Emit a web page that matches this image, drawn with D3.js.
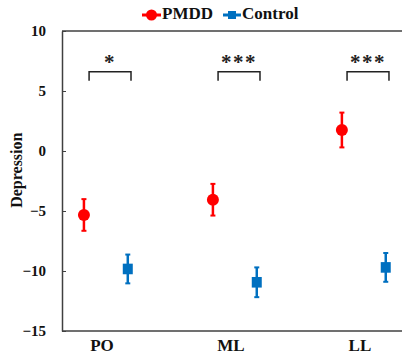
<!DOCTYPE html>
<html>
<head>
<meta charset="utf-8">
<script src="https://cdn.jsdelivr.net/npm/d3@7"></script>
<style>
  body { margin: 0; background: #fff; }
  svg { display: block; }
  svg text { font-family: "Liberation Serif", "Times New Roman", "DejaVu Serif", serif; font-weight: bold; }
</style>
</head>
<body>
<svg id="chart" width="402" height="355"></svg>
<script>
// data
const categories = ["PO", "ML", "LL"];
const pmddMean = [-5.33, -4.06, 1.75];
const pmddErr = [1.32, 1.32, 1.45];
const controlMean = [-9.83, -10.94, -9.7];
const controlErr = [1.2, 1.24, 1.2];
const sigLabels = ["*", "***", "***"];
const yTicks = [-15, -10, -5, 0, 5, 10];

const width = 402, height = 355;
const margin = { top: 31, right: 0, bottom: 24, left: 62 };

const svg = d3.select("#chart");

const x = d3.scaleLinear()
  .domain([0.69, 3.326])
  .range([margin.left, width - margin.right]);

const y = d3.scaleLinear()
  .domain([-15, 10])
  .range([height - margin.bottom, margin.top]);

const axisColor = "#404040";
const red = "#ff0000";
const blue = "#0070c0";

// frame: top and bottom lines
svg.append("line")
  .attr("x1", margin.left).attr("x2", width)
  .attr("y1", y(10)).attr("y2", y(10))
  .attr("stroke", axisColor).attr("stroke-width", 1.5);
svg.append("line")
  .attr("x1", margin.left).attr("x2", width)
  .attr("y1", y(-15)).attr("y2", y(-15))
  .attr("stroke", axisColor).attr("stroke-width", 1.5);

// y axis with inward ticks
const yAxis = d3.axisLeft(y)
  .tickValues(yTicks)
  .tickSizeInner(-4)
  .tickSizeOuter(0)
  .tickPadding(16);

const yg = svg.append("g")
  .attr("transform", `translate(${margin.left},0)`)
  .call(yAxis)
  .attr("font-family", null);
yg.select(".domain").attr("stroke", axisColor).attr("stroke-width", 1.5);
yg.selectAll(".tick line").attr("stroke", axisColor).attr("stroke-width", 1);
yg.selectAll(".tick text")
  .attr("font-size", 15)
  .attr("fill", "#111");

// y label
svg.append("text")
  .attr("transform", `translate(18,${y(-1.6)}) rotate(-90)`)
  .attr("text-anchor", "middle")
  .attr("dominant-baseline", "middle")
  .attr("font-size", 16)
  .attr("fill", "#111")
  .text("Depression");

// x category labels
svg.selectAll(".xlab")
  .data(categories)
  .join("text")
    .attr("class", "xlab")
    .attr("x", (d, i) => x(i + 1))
    .attr("y", 347)
    .attr("text-anchor", "middle")
    .attr("dominant-baseline", "middle")
    .attr("font-size", 17)
    .attr("fill", "#111")
    .text(d => d);

// series
const pmdd = categories.map((c, i) => ({ pos: i + 1 - 0.14, mean: pmddMean[i], err: pmddErr[i] }));
const control = categories.map((c, i) => ({ pos: i + 1 + 0.2, mean: controlMean[i], err: controlErr[i] }));

function errorBars(data, color) {
  const g = svg.append("g");
  g.selectAll("line.v")
    .data(data)
    .join("line")
      .attr("class", "v")
      .attr("x1", d => x(d.pos)).attr("x2", d => x(d.pos))
      .attr("y1", d => y(d.mean + d.err)).attr("y2", d => y(d.mean - d.err))
      .attr("stroke", color).attr("stroke-width", 2.5);
  g.selectAll("line.capTop")
    .data(data)
    .join("line")
      .attr("class", "capTop")
      .attr("x1", d => x(d.pos) - 2.5).attr("x2", d => x(d.pos) + 2.5)
      .attr("y1", d => y(d.mean + d.err)).attr("y2", d => y(d.mean + d.err))
      .attr("stroke", color).attr("stroke-width", 2);
  g.selectAll("line.capBot")
    .data(data)
    .join("line")
      .attr("class", "capBot")
      .attr("x1", d => x(d.pos) - 2.5).attr("x2", d => x(d.pos) + 2.5)
      .attr("y1", d => y(d.mean - d.err)).attr("y2", d => y(d.mean - d.err))
      .attr("stroke", color).attr("stroke-width", 2);
  return g;
}

errorBars(pmdd, red).selectAll("circle")
  .data(pmdd)
  .join("circle")
    .attr("cx", d => x(d.pos))
    .attr("cy", d => y(d.mean))
    .attr("r", 6)
    .attr("fill", red);

errorBars(control, blue).selectAll("rect")
  .data(control)
  .join("rect")
    .attr("x", d => x(d.pos) - 5)
    .attr("y", d => y(d.mean) - 5.3)
    .attr("width", 10)
    .attr("height", 10.6)
    .attr("fill", blue);

// significance brackets
const bracketTop = 6.6, bracketLeg = 5.85;
const sig = svg.append("g");
sig.selectAll("path")
  .data(sigLabels)
  .join("path")
    .attr("d", (d, i) => {
      const x1 = x(i + 1 - 0.1), x2 = x(i + 1 + 0.225);
      return `M${x1},${y(bracketLeg)}V${y(bracketTop)}H${x2}V${y(bracketLeg)}`;
    })
    .attr("fill", "none")
    .attr("stroke", "#222")
    .attr("stroke-width", 1.5);
sig.selectAll("text")
  .data(sigLabels)
  .join("text")
    .attr("x", (d, i) => x(i + 1 + 0.0625))
    .attr("y", y(6.85))
    .attr("text-anchor", "middle")
    .attr("font-size", 21)
    .attr("letter-spacing", 1.5)
    .attr("fill", "#222")
    .text(d => d);

// legend
const legend = svg.append("g");
legend.append("line")
  .attr("x1", 142).attr("x2", 161).attr("y1", 15).attr("y2", 15)
  .attr("stroke", red).attr("stroke-width", 3);
legend.append("circle")
  .attr("cx", 151.5).attr("cy", 15).attr("r", 5.5).attr("fill", red);
legend.append("text")
  .attr("x", 162).attr("y", 15)
  .attr("dominant-baseline", "middle")
  .attr("font-size", 17).attr("fill", "#111")
  .text("PMDD");
legend.append("line")
  .attr("x1", 223).attr("x2", 241).attr("y1", 15).attr("y2", 15)
  .attr("stroke", blue).attr("stroke-width", 3);
legend.append("rect")
  .attr("x", 228).attr("y", 11).attr("width", 8).attr("height", 8).attr("fill", blue);
legend.append("text")
  .attr("x", 242).attr("y", 15)
  .attr("dominant-baseline", "middle")
  .attr("font-size", 17).attr("fill", "#111")
  .text("Control");
</script>
</body>
</html>
